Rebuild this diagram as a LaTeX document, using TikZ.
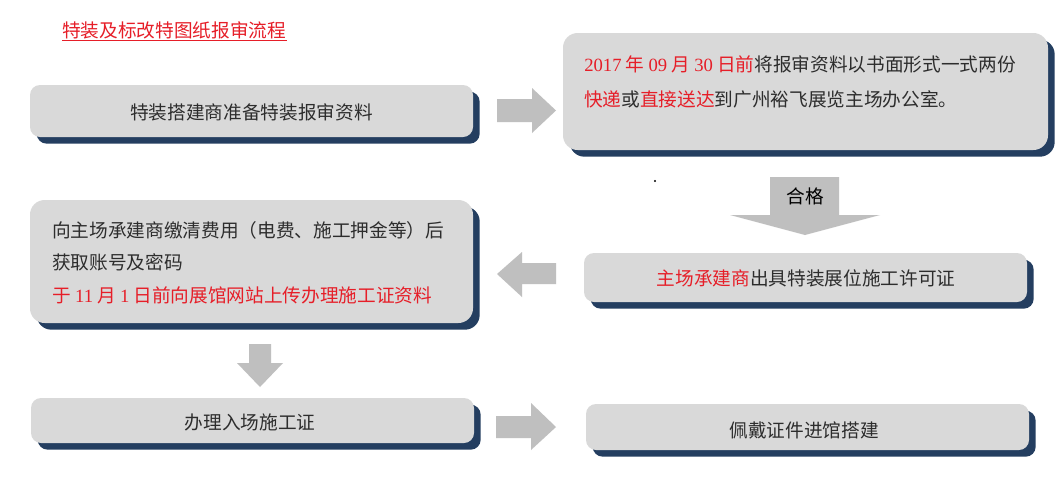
\documentclass[tikz,border=0pt]{standalone}
\usepackage{fontspec}
\setmainfont{Liberation Serif}
\newfontfamily\cjk{Noto Sans CJK SC}
\usetikzlibrary{shadows}
\definecolor{boxgray}{RGB}{217,217,217}
\definecolor{arrowgray}{RGB}{191,191,191}
\definecolor{navyc}{RGB}{36,62,96}
\definecolor{redtxt}{RGB}{230,30,40}
\definecolor{darktxt}{RGB}{45,45,45}
\newcommand{\rd}[1]{\textcolor{redtxt}{#1}}
\begin{document}
\begin{tikzpicture}[x=0.75pt,y=-0.75pt,
  box/.style={rectangle, fill=boxgray, draw=none, inner sep=0pt,
    general shadow={fill=navyc, shadow xshift=5pt, shadow yshift=-5pt}},
  txt/.style={inner sep=0pt, text=darktxt, font=\cjk\fontsize{14}{16}\selectfont},
  blockarrow/.style={fill=arrowgray, draw=none}]
\useasboundingbox (0,0) rectangle (1063,480);
\fill[white] (0,0) rectangle (1063,480);

% title
\node[anchor=west, inner sep=0pt, text=redtxt, font=\cjk\fontsize{14}{16}\selectfont] (title) at (62,30) {特装及标改特图纸报审流程};
\draw[redtxt, line width=0.7pt] ([yshift=-1pt]title.south west) -- ([yshift=-1pt]title.south east);

% boxes
\node[box, rounded corners=7.5pt, minimum width=332.25pt, minimum height=39pt] (b1) at (251.5,111) {};
\node[box, rounded corners=11pt, minimum width=363.75pt, minimum height=87.75pt] (b2) at (805.5,91.5) {};
\node[box, rounded corners=11pt, minimum width=332.25pt, minimum height=92.25pt] (b3) at (251.5,261.5) {};
\node[box, rounded corners=7.5pt, minimum width=332.25pt, minimum height=36.75pt] (b4) at (805.5,277.5) {};
\node[box, rounded corners=7.5pt, minimum width=332.25pt, minimum height=33.75pt] (b5) at (252.5,420.5) {};
\node[box, rounded corners=7.5pt, minimum width=332.25pt, minimum height=34.5pt] (b6) at (807.5,427) {};

% texts
\node[txt] (t1) at (251.5,112) {特装搭建商准备特装报审资料};
\node[txt, anchor=west, align=left, font=\cjk\fontsize{14}{26.25}\selectfont] (t2) at (584,81.5)
  {\rd{{\rmfamily 2017} 年 {\rmfamily 09} 月 {\rmfamily 30} 日前}将报审资料以书面形式一式两份\\
   \rd{快递}或\rd{直接送达}到广州裕飞展览主场办公室。};
\node[txt, anchor=west, align=left, font=\cjk\fontsize{14}{24.4}\selectfont] (t3) at (52,262.5)
  {向主场承建商缴清费用（电费、施工押金等）后\\
   获取账号及密码\\
   \rd{于 {\rmfamily 11} 月 {\rmfamily 1} 日前向展馆网站上传办理施工证资料}};
\node[txt] (t4) at (806,278) {\rd{主场承建商}出具特装展位施工许可证};
\node[txt] (t5) at (250,422) {办理入场施工证};
\node[txt] (t6) at (804,430) {佩戴证件进馆搭建};

% block arrows
\fill[blockarrow] (497,99) -- (532,99) -- (532,88) -- (556,110.5) -- (532,133) -- (532,122) -- (497,122) -- cycle;
\fill[blockarrow] (770,177) -- (839,177) -- (839,215) -- (880,215) -- (805,235) -- (730,215) -- (770,215) -- cycle;
\node[inner sep=0pt, text=black, font=\cjk\fontsize{14}{16}\selectfont] (hege) at (805,196) {合格};
\fill[blockarrow] (556,263) -- (522,263) -- (522,252) -- (497,274) -- (522,297) -- (522,284) -- (556,284) -- cycle;
\fill[blockarrow] (249,344) -- (271,344) -- (271,363) -- (283,363) -- (260,387) -- (237,363) -- (249,363) -- cycle;
\fill[blockarrow] (496,416) -- (531,416) -- (531,403) -- (556,427) -- (531,450) -- (531,438) -- (496,438) -- cycle;

% small dot
\fill[black] (655,181) circle (0.9pt);
\end{tikzpicture}
\end{document}
